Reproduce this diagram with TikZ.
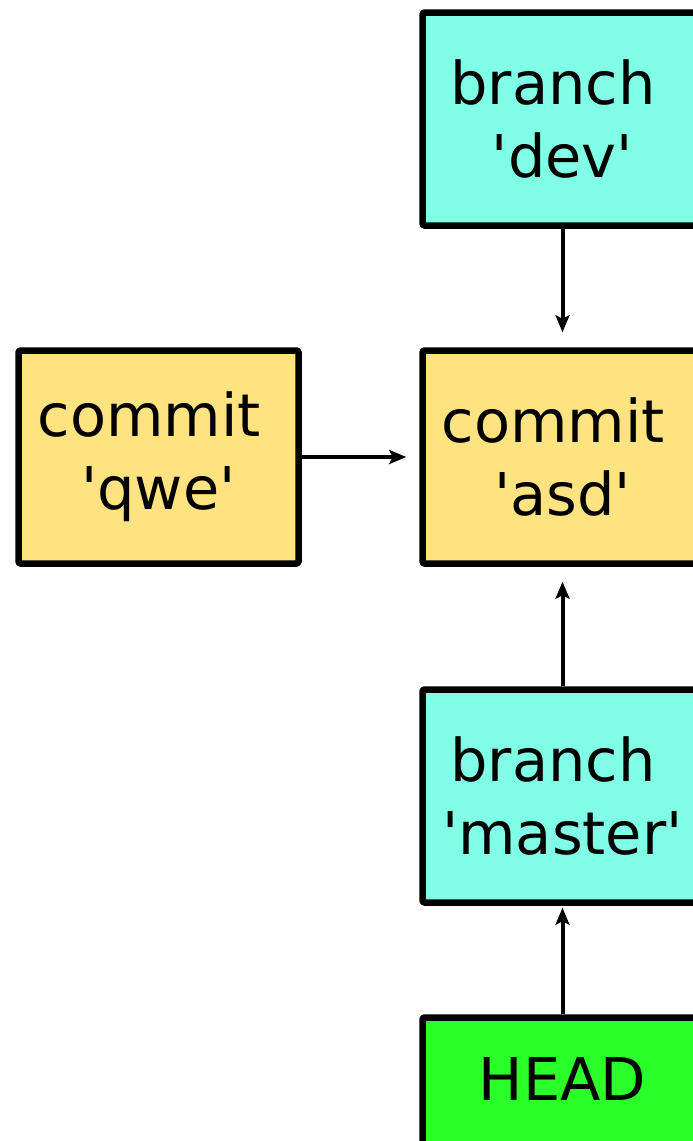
\documentclass[tikz,border=0pt]{standalone}
\usepackage{fontspec}
\setmainfont{DejaVu Sans}
\usetikzlibrary{arrows.meta}
\definecolor{branchfill}{HTML}{80FFE6}
\definecolor{commitfill}{HTML}{FFE380}
\definecolor{headfill}{HTML}{2AFF2A}
\newcommand{\sq}{\textquotesingle}
\newcommand{\trail}{\kern.32em}
\begin{document}
\begin{tikzpicture}[x=1pt,y=-1pt,
  box/.style={draw=black, line width=6.5pt, line join=round, rounded corners=1.5pt,
    minimum width=280pt, minimum height=213pt, inner sep=0pt, align=center,
    font=\fontsize{59}{73}\selectfont},
  branchbox/.style={box, fill=branchfill},
  commitbox/.style={box, fill=commitfill},
  headbox/.style={box, fill=headfill},
  link/.style={line width=4pt, -{Stealth[length=17pt,width=14pt,inset=3.5pt]}}]
  \useasboundingbox (0,0) rectangle (693,1141);
  \clip (0,0) rectangle (693,1141);
  \fill[white] (0,0) rectangle (693,1141);
  % refs and commits
  \node[branchbox] (dev)    at (562.5,119)  {branch\trail\\\sq dev\sq};
  \node[commitbox] (asd)    at (562.5,457)  {commit\trail\\\sq asd\sq};
  \node[commitbox] (qwe)    at (158.5,457)  {commit\trail\\\sq qwe\sq};
  \node[branchbox] (master) at (562.5,796)  {branch\trail\\\sq master\sq};
  \node[headbox] (head) at (562.5,1124) {};
  \node[font=\fontsize{59}{73}\selectfont, inner sep=0pt, anchor=base] (headlabel) at (562.5,1100) {HEAD};
  % pointers
  \draw[link, shorten >=15pt] (dev.south) -- (asd.north);
  \draw[link, shorten >=13pt] (qwe.east) -- (asd.west);
  \draw[link, shorten >=15pt] (master.north) -- (asd.south);
  \draw[link, shorten >=2pt] (head.north) -- (master.south);
\end{tikzpicture}
\end{document}
